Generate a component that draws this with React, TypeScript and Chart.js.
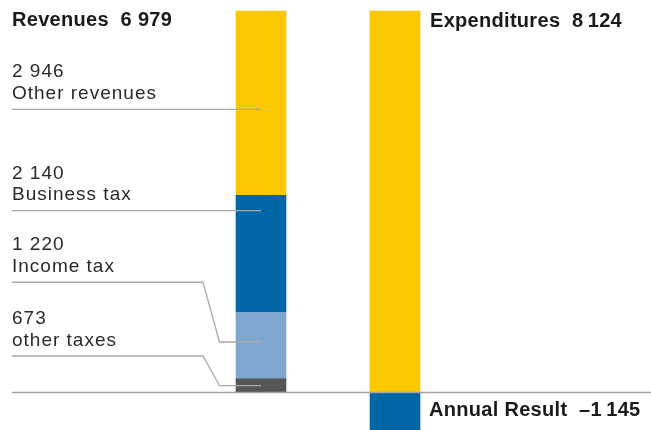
import React, { useEffect, useRef } from "react";
import { Chart, registerables } from "chart.js";

Chart.register(...registerables);

// ---- data ----
const categories = ["Revenues", "Expenditures"];
const revenueTotal = "6 979";
const expenditureTotal = "8\u2009124";
const annualResultText = "\u20131\u2009145";

// revenue parts, bottom to top
const revenueNames = ["other taxes", "Income tax", "Business tax", "Other revenues"];
const revenueNumbers = ["673", "1 220", "2 140", "2 946"];
// bar heights as drawn in the picture
const revenueBarValues = [240, 1220, 2140, 3379];
const expenditureCovered = [6979];
const annualResult = [-1145];

// leader lines (data units): where the text rule sits, and where it meets the bar
const leaderTextValues = [659, 2010, 3321, 5175];
const leaderTargetValues = [115, 916, 3321, 5175];

const revenueColors = ["#555756", "#7ea6cf", "#0066a6", "#fcc800"];
const yellow = "#fcc800";
const blue = "#0066a6";

export default function App() {
  const ref = useRef<HTMLCanvasElement | null>(null);

  useEffect(() => {
    const canvas = ref.current;
    if (!canvas) return;

    const datasets: any[] = revenueBarValues.map((v, i) => ({
      label: revenueNames[i],
      data: [v, null],
      backgroundColor: revenueColors[i],
      stack: "s",
    }));
    datasets.push({
      label: "Expenditures",
      data: [null, expenditureCovered[0]],
      backgroundColor: yellow,
      stack: "s",
    });
    datasets.push({
      label: "Annual Result",
      data: [null, annualResult[0]],
      backgroundColor: blue,
      stack: "s",
    });

    const overlay = {
      id: "overlay",
      afterDatasetsDraw(chart: any) {
        const ctx = chart.ctx as CanvasRenderingContext2D;
        const y = chart.scales.y;
        const xs = chart.scales.x;
        const cx = xs.getPixelForValue(0);
        const zero = Math.round(y.getPixelForValue(0)) + 0.5;
        ctx.save();
        // leader lines
        ctx.strokeStyle = "#a9a9a9";
        ctx.lineWidth = 1.3;
        for (let i = 0; i < leaderTextValues.length; i++) {
          const ty = y.getPixelForValue(leaderTextValues[i]);
          const by = y.getPixelForValue(leaderTargetValues[i]);
          ctx.beginPath();
          ctx.moveTo(12, ty);
          if (Math.abs(ty - by) > 1) {
            ctx.lineTo(203, ty);
            ctx.lineTo(219.5, by);
          }
          ctx.lineTo(cx, by);
          ctx.stroke();
        }
        // base line
        ctx.strokeStyle = "#a3a3a3";
        ctx.lineWidth = 1.5;
        ctx.beginPath();
        ctx.moveTo(12, zero);
        ctx.lineTo(chart.width, zero);
        ctx.stroke();

        // texts
        ctx.textBaseline = "alphabetic";
        ctx.textAlign = "left";
        ctx.fillStyle = "#2a2a2a";
        ctx.font = '19px "Liberation Sans", Arial, sans-serif';
        (ctx as any).letterSpacing = "1px";
        for (let i = 0; i < leaderTextValues.length; i++) {
          const ty = y.getPixelForValue(leaderTextValues[i]);
          ctx.fillText(revenueNumbers[i], 12, ty - 32);
          ctx.fillText(revenueNames[i], 12, ty - 10.5);
        }
        ctx.fillStyle = "#1a1a1a";
        ctx.font = 'bold 20px "Liberation Sans", Arial, sans-serif';
        (ctx as any).letterSpacing = "0.3px";
        const x2 = xs.getPixelForValue(1);
        ctx.fillText(categories[0] + "  " + revenueTotal, 12, 26);
        ctx.fillText(categories[1] + "  " + expenditureTotal, x2 + 35, 26.5);
        ctx.fillText("Annual Result  " + annualResultText, x2 + 34, 415.5);
        ctx.restore();
      },
    };

    const chart = new Chart(canvas, {
      type: "bar",
      data: { labels: categories, datasets },
      options: {
        responsive: false,
        animation: false,
        devicePixelRatio: 1,
        layout: { padding: { left: 194, right: 189, top: 0, bottom: 0 } },
        plugins: { legend: { display: false }, tooltip: { enabled: false } },
        datasets: { bar: { barThickness: 50, borderWidth: 0 } },
        scales: {
          x: { display: false, stacked: true, offset: true, grid: { display: false } },
          y: { display: false, stacked: true, min: -696, max: 7180 },
        },
      },
      plugins: [overlay],
    });
    return () => chart.destroy();
  }, []);

  return (
    <div style={{ position: "absolute", left: 0, top: 0, width: 651, height: 430, background: "#fff" }}>
      <canvas ref={ref} width={651} height={430} style={{ display: "block" }} />
    </div>
  );
}
